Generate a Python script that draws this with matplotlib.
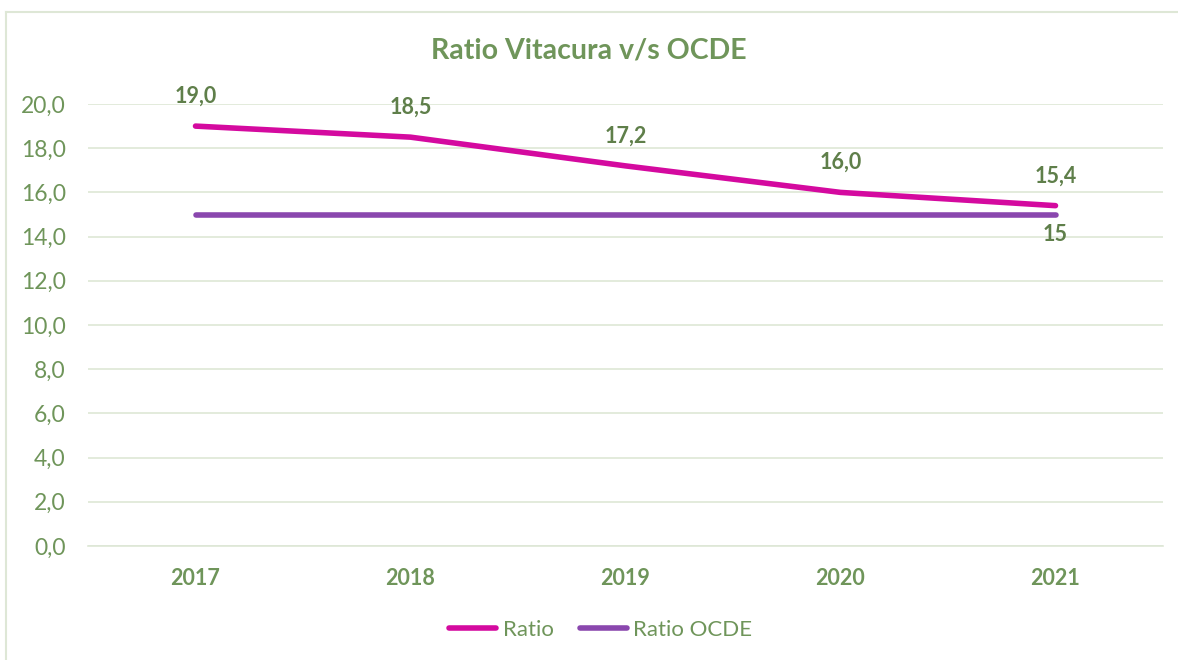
import matplotlib
matplotlib.use("Agg")
import matplotlib.pyplot as plt
from matplotlib.lines import Line2D

# Chart data
years = ["2017", "2018", "2019", "2020", "2021"]
ratio = [19.0, 18.5, 17.2, 16.0, 15.4]
ratio_ocde = [15, 15, 15, 15, 15]
y_ticks = [0, 2, 4, 6, 8, 10, 12, 14, 16, 18, 20]

MAGENTA = "#D40A9F"
PURPLE = "#8A47AE"
GREEN = "#6F955A"
GREEN_DARK = "#5F7F4A"
GRID = "#DEE7D6"

plt.rcParams["font.family"] = ["Lato", "DejaVu Sans"]

W, H = 1178, 660
fig = plt.figure(figsize=(W / 100, H / 100), dpi=100)
ax = fig.add_axes([88 / W, 1 - 546 / H, (1163 - 88) / W, (546 - 104) / H])

x = list(range(len(years)))
ax.plot(x, ratio, color=MAGENTA, lw=4, solid_capstyle="round", label="Ratio", zorder=3)
ax.plot(x, ratio_ocde, color=PURPLE, lw=4, solid_capstyle="round", label="Ratio OCDE", zorder=3)

for xi, v in zip(x, ratio):
    ax.annotate(f"{v:.1f}".replace(".", ","), (xi, v), xytext=(0, 14),
                textcoords="offset points", ha="center", va="bottom",
                fontsize=15.5, fontweight="bold", color=GREEN_DARK)
ax.annotate(f"{ratio_ocde[-1]}", (x[-1], ratio_ocde[-1]), xytext=(0, -7),
            textcoords="offset points", ha="center", va="top",
            fontsize=15.5, fontweight="bold", color=GREEN_DARK)

ax.set_xlim(-0.5, len(years) - 0.5)
ax.set_ylim(0, 20)
ax.set_yticks(y_ticks)
ax.set_yticklabels([f"{t:.1f}".replace(".", ",") for t in y_ticks])
ax.set_xticks(x)
ax.set_xticklabels(years, fontweight="bold")
ax.tick_params(axis="y", length=0, pad=16, labelsize=16.5, labelcolor=GREEN)
ax.tick_params(axis="x", length=0, pad=16, labelsize=15.5, labelcolor=GREEN)
ax.grid(axis="y", color=GRID, lw=1.2)
ax.set_axisbelow(True)
for s in ax.spines.values():
    s.set_visible(False)
ax.spines["bottom"].set_visible(True)
ax.spines["bottom"].set_color(GRID)
ax.spines["bottom"].set_linewidth(1.2)

fig.text(0.5, 1 - 50 / H, "Ratio Vitacura v/s OCDE", ha="center", va="center",
         fontsize=20.5, fontweight="bold", color=GREEN)

fig.legend(loc="center", bbox_to_anchor=(0.51, 1 - 630 / H), ncol=2, frameon=False,
           fontsize=16, labelcolor=GREEN, handlelength=2.1, handletextpad=0.3,
           columnspacing=1.2)

# outer chart border (top and left visible)
fig.add_artist(Line2D([5.5 / W, 1], [1 - 11.5 / H, 1 - 11.5 / H], color=GRID, lw=1.5))
fig.add_artist(Line2D([5.5 / W, 5.5 / W], [0, 1 - 11.5 / H], color=GRID, lw=1.5))

fig.savefig("out.png", dpi=100, facecolor="white")
